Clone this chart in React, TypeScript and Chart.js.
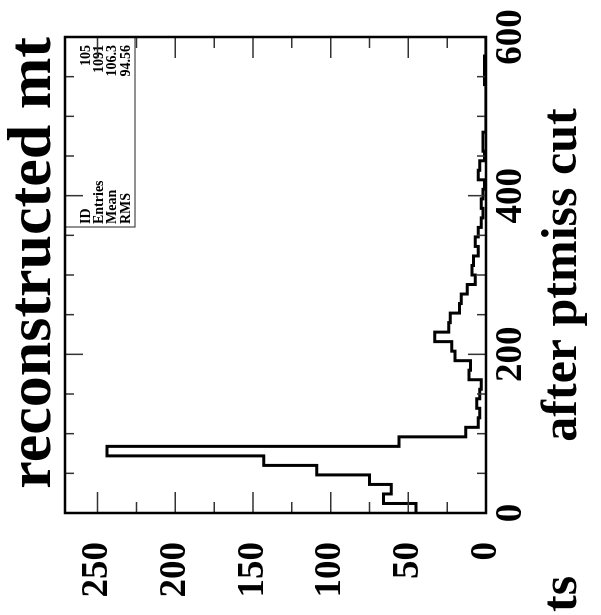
import React, { useEffect, useRef } from 'react';
import { Chart, registerables } from 'chart.js';

Chart.register(...registerables);

// ---- data -------------------------------------------------------------
const binLowEdges = [
  0, 12, 24, 36, 48, 60, 72, 84, 96, 108,
  120, 132, 144, 156, 168, 180, 192, 204, 216, 228,
  240, 252, 264, 276, 288, 300, 312, 324, 336, 348,
  360, 372, 384, 396, 408, 420, 432, 444, 456, 468,
  480, 492, 504, 516, 528, 540, 552, 564, 576, 588,
];
const binUpperEnd = 600;
const binCounts = [
  45, 66, 61, 75, 109, 143, 244, 56, 13, 5,
  4, 6, 4, 3, 11, 10, 20, 22, 33, 24,
  23, 17, 16, 12, 7, 9, 8, 5, 7, 5,
  3, 2, 3, 2, 1, 5, 4, 1, 2, 2,
  0, 0, 0, 0, 0, 1, 1, 1, 0, 0,
];
const xMin = 0;
const xMax = 600;
const yMin = 0;
const yMax = 271;
const xTickStep = 50;
const xLabelEvery = 200;
const yTickStep = 25;
const yLabelEvery = 50;

const titleText = 'reconstructed mt';
const xTitleText = 'after ptmiss cut';
const cutTitleText = 'ts';
const statLabels = ['ID', 'Entries', 'Mean', 'RMS'];
const statValues = ['105', '1091', '106.3', '94.56'];

// ---- styling ------------------------------------------------------------
const SERIF = "'Liberation Serif', 'Times New Roman', serif";
const W = 615; // unrotated canvas width
const H = 601; // unrotated canvas height

const framePlugin = {
  id: 'pawFrame',
  afterDatasetsDraw(chart: any) {
    const { ctx, chartArea: a, scales } = chart;
    const xs = scales.x;
    const ys = scales.y;
    ctx.save();
    // stats box
    const boxW = 190;
    const boxH = 70;
    ctx.strokeStyle = '#222';
    ctx.lineWidth = 1;
    ctx.strokeRect(a.right - boxW, a.top, boxW, boxH);
    ctx.fillStyle = '#000';
    ctx.font = `bold 14px ${SERIF}`;
    ctx.textBaseline = 'alphabetic';
    const rowOffsets = [25, 38, 51, 65];
    statLabels.forEach((lab, i) => {
      ctx.textAlign = 'left';
      ctx.fillText(lab, a.right - boxW + 3, a.top + rowOffsets[i]);
      ctx.textAlign = 'right';
      ctx.fillText(statValues[i], a.right - 8, a.top + rowOffsets[i]);
    });

    // inward tick marks
    ctx.strokeStyle = '#333';
    ctx.lineWidth = 1.5;
    ctx.beginPath();
    xs.ticks.forEach((t: any) => {
      const px = xs.getPixelForValue(t.value);
      if (px <= a.left + 1 || px >= a.right - 1) return;
      const len = t.value % xLabelEvery === 0 ? 18 : 9;
      ctx.moveTo(px, a.bottom);
      ctx.lineTo(px, a.bottom - len);
      ctx.moveTo(px, a.top);
      ctx.lineTo(px, a.top + len);
    });
    ys.ticks.forEach((t: any) => {
      const py = ys.getPixelForValue(t.value);
      if (py >= a.bottom - 1 || py <= a.top + 1) return;
      const len = t.value % yLabelEvery === 0 ? 21 : 11;
      ctx.moveTo(a.left, py);
      ctx.lineTo(a.left + len, py);
      ctx.moveTo(a.right, py);
      ctx.lineTo(a.right - len, py);
    });
    ctx.stroke();

    // frame
    ctx.strokeStyle = '#000';
    ctx.lineWidth = 2.5;
    ctx.strokeRect(a.left, a.top, a.right - a.left, a.bottom - a.top);

    // clipped axis title fragment at lower left
    ctx.fillStyle = '#000';
    ctx.font = `bold 50px ${SERIF}`;
    ctx.textAlign = 'left';
    ctx.textBaseline = 'middle';
    ctx.fillText(cutTitleText, 3, xs.bottom - 30 - 8);
    ctx.restore();
  },
};

export default function App() {
  const ref = useRef<HTMLCanvasElement | null>(null);
  useEffect(() => {
    if (!ref.current) return;
    const points = binLowEdges.map((x, i) => ({ x, y: binCounts[i] }));
    points.push({ x: binUpperEnd, y: 0 });
    const tickFont = { family: SERIF, size: 37, weight: 'bold' as const };
    const chart = new Chart(ref.current, {
      type: 'line',
      data: {
        datasets: [
          {
            data: points,
            stepped: true,
            borderColor: '#000',
            borderWidth: 3,
            pointRadius: 0,
            fill: false,
            tension: 0,
          },
        ],
      },
      options: {
        animation: false,
        responsive: false,
        devicePixelRatio: 1,
        layout: { padding: { left: 0, right: 37, top: 0, bottom: 0 } },
        plugins: {
          legend: { display: false },
          tooltip: { enabled: false },
          title: {
            display: true,
            text: titleText,
            align: 'end',
            color: '#000',
            font: { family: SERIF, size: 62, weight: 'bold', lineHeight: 1 },
            padding: { top: 3, bottom: 0 },
          },
        },
        scales: {
          x: {
            type: 'linear',
            min: xMin,
            max: xMax,
            grid: { display: false, drawTicks: false },
            border: { display: false },
            ticks: {
              stepSize: xTickStep,
              autoSkip: false,
              maxRotation: 0,
              minRotation: 0,
              includeBounds: false,
              padding: 3,
              color: '#000',
              font: tickFont,
              callback: (v: any) => (Number(v) % xLabelEvery === 0 ? String(v) : ''),
            },
            title: {
              display: true,
              text: xTitleText,
              color: '#000',
              font: { family: SERIF, size: 50, weight: 'bold' },
              padding: { top: 0, bottom: 8 },
            },
            afterFit: (s: any) => {
              s.height = 115;
            },
          },
          y: {
            type: 'linear',
            min: yMin,
            max: yMax,
            grid: { display: false, drawTicks: false },
            border: { display: false },
            ticks: {
              stepSize: yTickStep,
              autoSkip: false,
              includeBounds: false,
              padding: 29,
              color: '#000',
              font: tickFont,
              callback: (v: any) => (Number(v) % yLabelEvery === 0 ? String(v) : ''),
            },
            afterFit: (s: any) => {
              s.width = 102;
            },
          },
        },
      },
      plugins: [framePlugin],
    });
    return () => chart.destroy();
  }, []);

  return (
    <div
      style={{
        position: 'fixed',
        left: 0,
        top: 0,
        width: H,
        height: W,
        overflow: 'hidden',
        background: '#fff',
      }}
    >
      <canvas
        ref={ref}
        width={W}
        height={H}
        style={{
          position: 'absolute',
          left: 0,
          top: 0,
          width: W,
          height: H,
          transformOrigin: '0 0',
          transform: `translateY(${W}px) rotate(-90deg)`,
        }}
      />
    </div>
  );
}
